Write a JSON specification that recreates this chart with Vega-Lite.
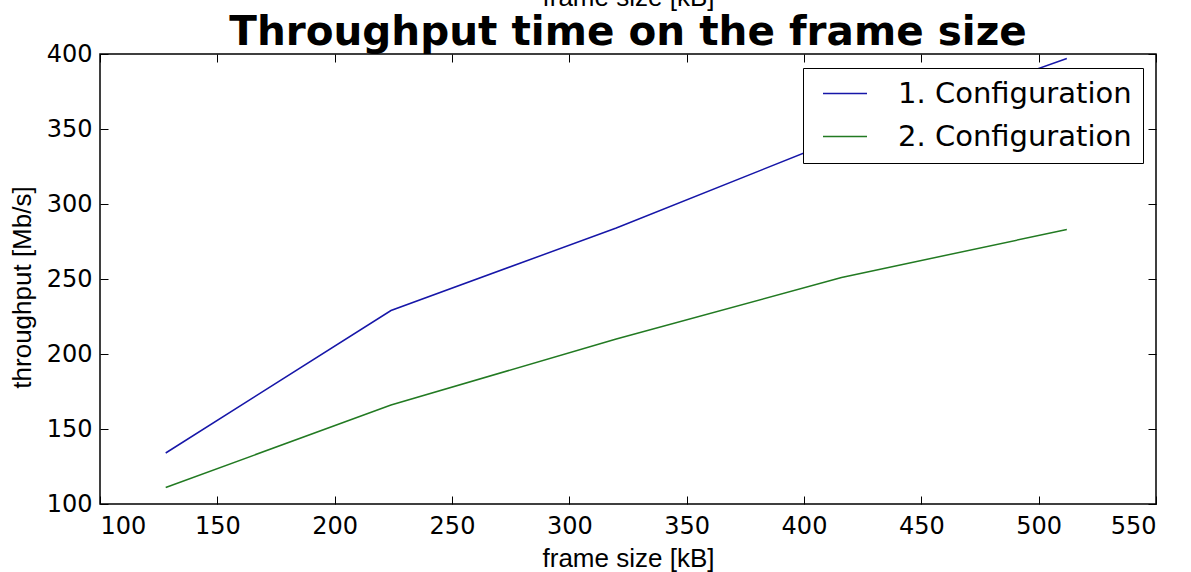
{
  "$schema": "https://vega.github.io/schema/vega-lite/v6.json",
  "width": 1056,
  "height": 450,
  "autosize": {"type": "none"},
  "padding": {"left": 100, "top": 54, "right": 35, "bottom": 68},
  "background": "white",
  "config": {
    "view": {"stroke": "black", "strokeWidth": 1.5},
    "axis": {
      "grid": false,
      "domain": false,
      "labelFont": "DejaVu Sans",
      "labelFontSize": 24,
      "labelColor": "black",
      "tickColor": "black",
      "tickSize": -8,
      "tickWidth": 1,
      "titleFont": "Liberation Sans",
      "titleFontSize": 26,
      "titleFontWeight": "normal",
      "titleColor": "black"
    }
  },
  "title": {
    "text": "Throughput time on the frame size",
    "font": "DejaVu Sans",
    "fontSize": 40.5,
    "fontWeight": "bold",
    "color": "black",
    "anchor": "middle",
    "baseline": "alphabetic",
    "offset": 10,
    "dy": 111
  },
  "data": {
    "values": [
      {"series": "1. Configuration", "frame_kB": 128, "throughput": 134},
      {"series": "1. Configuration", "frame_kB": 224, "throughput": 229},
      {"series": "1. Configuration", "frame_kB": 320, "throughput": 284},
      {"series": "1. Configuration", "frame_kB": 416, "throughput": 344},
      {"series": "1. Configuration", "frame_kB": 512, "throughput": 397},
      {"series": "2. Configuration", "frame_kB": 128, "throughput": 111},
      {"series": "2. Configuration", "frame_kB": 224, "throughput": 166},
      {"series": "2. Configuration", "frame_kB": 320, "throughput": 210},
      {"series": "2. Configuration", "frame_kB": 416, "throughput": 251},
      {"series": "2. Configuration", "frame_kB": 512, "throughput": 283}
    ]
  },
  "layer": [
    {
      "mark": {"type": "line", "strokeWidth": 1.5, "clip": false},
      "encoding": {
        "x": {
          "field": "frame_kB",
          "type": "quantitative",
          "scale": {"domain": [100, 550], "nice": false, "zero": false},
          "axis": {
            "orient": "bottom",
            "values": [100, 150, 200, 250, 300, 350, 400, 450, 500, 550],
            "labelPadding": 18,
            "title": "frame size [kB]",
            "titleBaseline": "alphabetic",
            "titleY": 62
          }
        },
        "y": {
          "field": "throughput",
          "type": "quantitative",
          "scale": {"domain": [100, 400], "nice": false, "zero": false},
          "axis": {
            "orient": "left",
            "values": [100, 150, 200, 250, 300, 350, 400],
            "labelPadding": 16,
            "title": "throughput [Mb/s]",
            "titleBaseline": "alphabetic",
            "titleX": -70,
            "titleY": 233
          }
        },
        "color": {
          "field": "series",
          "type": "nominal",
          "scale": {
            "domain": ["1. Configuration", "2. Configuration"],
            "range": ["#1616a8", "#227a22"]
          },
          "legend": {
            "orient": "none",
            "legendX": 703,
            "legendY": 14,
            "direction": "vertical",
            "title": null,
            "symbolType": "M-0.5,0H3.5",
            "symbolSize": 484,
            "symbolStrokeWidth": 1.5,
            "labelFont": "DejaVu Sans",
            "labelFontSize": 29,
            "labelColor": "black",
            "labelLimit": 500,
            "labelOffset": 55,
            "rowPadding": 13,
            "padding": 11,
            "strokeColor": "black",
            "fillColor": "white"
          }
        }
      }
    },
    {
      "mark": {"type": "line", "opacity": 0},
      "encoding": {
        "x": {
          "field": "frame_kB",
          "type": "quantitative",
          "axis": {
            "orient": "top",
            "values": [100, 150, 200, 250, 300, 350, 400, 450, 500, 550],
            "labels": false,
            "title": "frame size [kB]",
            "titleBaseline": "alphabetic",
            "titleY": -49
          }
        },
        "y": {
          "field": "throughput",
          "type": "quantitative",
          "axis": {
            "orient": "right",
            "values": [100, 150, 200, 250, 300, 350, 400],
            "labels": false,
            "title": null
          }
        },
        "detail": {"field": "series"}
      }
    }
  ],
  "resolve": {"axis": {"x": "independent", "y": "independent"}}
}
